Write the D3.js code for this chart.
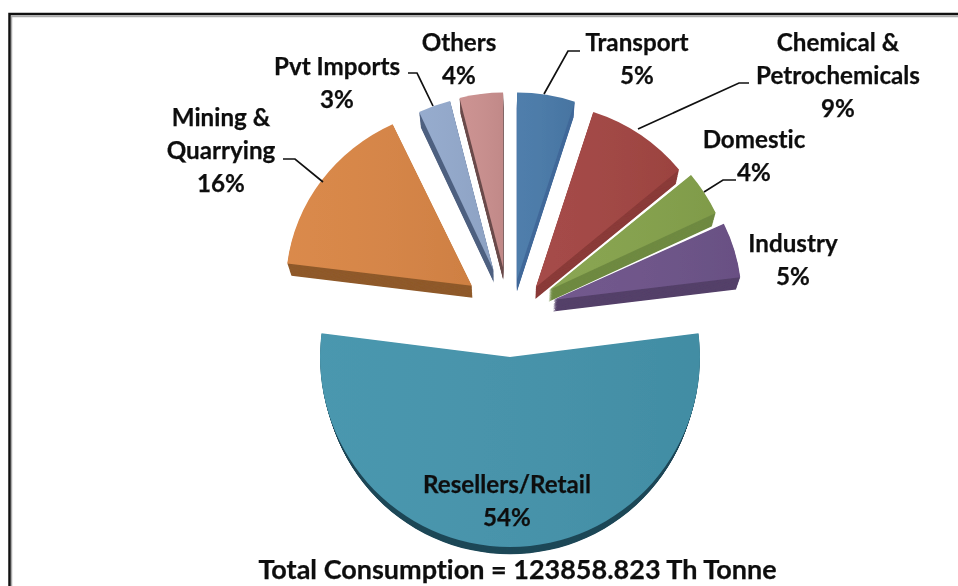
<!DOCTYPE html>
<html><head><meta charset="utf-8">
<script src="https://cdn.jsdelivr.net/npm/d3@7"></script>
<style>html,body{margin:0;padding:0;background:#fff;overflow:hidden}svg{display:block}text{font-family:Lato,"Open Sans",sans-serif;font-weight:700;fill:#111;font-variant-ligatures:none;stroke:#111;stroke-width:0.25px}</style>
</head><body><svg id="c" width="958" height="586"></svg>
<script>
// Data
const categories = ["Transport","Chemical & Petrochemicals","Domestic","Industry","Resellers/Retail","Mining & Quarrying","Pvt Imports","Others"];
const shares = [5,9,4,5,54,16,3,4];
const total = "Total Consumption = 123858.823 Th Tonne";
// Style and layout
const faceColors = ["#4a7aa9","#a34643","#86a34d","#6e548a","#4594ac","#d98646","#93a9cc","#cb908f"];
const sideColors = ["#41699a","#8a3a38","#6f8a42","#544069","#1f4858","#8f5a2a","#4f6180","#6b4c4c"];
const radii = [187,186,184,188,190,186,175,175];
const squash = [1,0.99,0.98,0.95,1,0.96,1,1];
const explodeDist = [45,45,52,50,33,54,56,57];
const explodeDir = [9,35,49,61,180,315,343,353];
const labelLines = [["Transport","5%"],["Chemical &","Petrochemicals","9%"],["Domestic","4%"],["Industry","5%"],["Resellers/Retail","54%"],["Mining &","Quarrying","16%"],["Pvt Imports","3%"],["Others","4%"]];
const labelX = [637,838,754,793,507,221,337,459];
const labelY = [43,43,140,244,485,118,67,43];
const leaders = [
 [[580,51],[568,51],[544,94]], [[749,83],[739,83],[638,129]], [[736,180],[723,180],[704,192]],
 null, null, [[283,159],[295,159],[323,182]], [[408,73],[417,73],[433,106]], null];
const cx=510, cy=324, vx=510, vy=950, depth=0.018, steps=16;

const svg=d3.select("#c");
const defs=svg.append("defs");
const blur=defs.append("filter").attr("id","soft").attr("x","-5%").attr("y","-5%").attr("width","110%").attr("height","110%");
blur.append("feGaussianBlur").attr("stdDeviation",0.55);
const textBlur=defs.append("filter").attr("id","softT").attr("x","-5%").attr("y","-20%").attr("width","110%").attr("height","140%");
textBlur.append("feGaussianBlur").attr("stdDeviation",0.4);
const sheen=defs.append("linearGradient").attr("id","sheen").attr("x1",0).attr("x2",1).attr("y1",0).attr("y2",0);
sheen.append("stop").attr("offset",0).attr("stop-color","#fff").attr("stop-opacity",0.03);
sheen.append("stop").attr("offset",1).attr("stop-color","#000").attr("stop-opacity",0.05);

// frame
const frame=svg.append("g");
frame.append("path").attr("d","M11.5,586V16.5H958").attr("fill","none").attr("stroke","#aaa").attr("stroke-width",1.5);
frame.append("path").attr("d","M9.5,586V14H958").attr("fill","none").attr("stroke","#111").attr("stroke-width",2.5);

const pie=d3.pie().sort(null).value(d=>d)(shares);
const chart=svg.append("g").attr("filter","url(#soft)");
const rad=Math.PI/180;
// draw order: back slices first
const order=[7,6,0,1,2,3,5,4];
order.forEach(i=>{
  const p=pie[i];
  const arc=d3.arc().innerRadius(0).outerRadius(radii[i]).startAngle(p.startAngle).endAngle(p.endAngle);
  const ox=cx+explodeDist[i]*Math.sin(explodeDir[i]*rad), oy=cy-explodeDist[i]*Math.cos(explodeDir[i]*rad);
  const g=chart.append("g");
  const d=arc();
  d3.range(steps,0,-1).forEach(k=>{
    const s=1-depth*k/steps;
    g.append("path").attr("d",d).attr("fill",sideColors[i])
     .attr("transform",`translate(${vx},${vy}) scale(${s}) translate(${ox-vx},${oy-vy}) scale(1,${squash[i]})`);
  });
  const top=g.append("g").attr("transform",`translate(${ox},${oy}) scale(1,${squash[i]})`);
  top.append("path").attr("d",d).attr("fill",faceColors[i]);
  top.append("path").attr("d",d).attr("fill","url(#sheen)");
});

// leaders
const line=d3.line();
svg.append("g").selectAll("path").data(leaders.filter(Boolean)).join("path")
  .attr("d",line).attr("fill","none").attr("stroke","#111").attr("stroke-width",1.7);

// labels
const fs=24.2, lh=32.6;
const lab=svg.append("g").attr("filter","url(#softT)");
labelLines.forEach((lines,i)=>{
  lines.forEach((t,j)=>{
    lab.append("text").attr("x",labelX[i]).attr("y",labelY[i]+j*lh).attr("dy","0.35em")
      .attr("text-anchor","middle").attr("font-size",fs).text(t);
  });
});
lab.append("text").attr("x",517.5).attr("y",570).attr("dy","0.35em").attr("text-anchor","middle").attr("font-size",27).text(total);
</script></body></html>
